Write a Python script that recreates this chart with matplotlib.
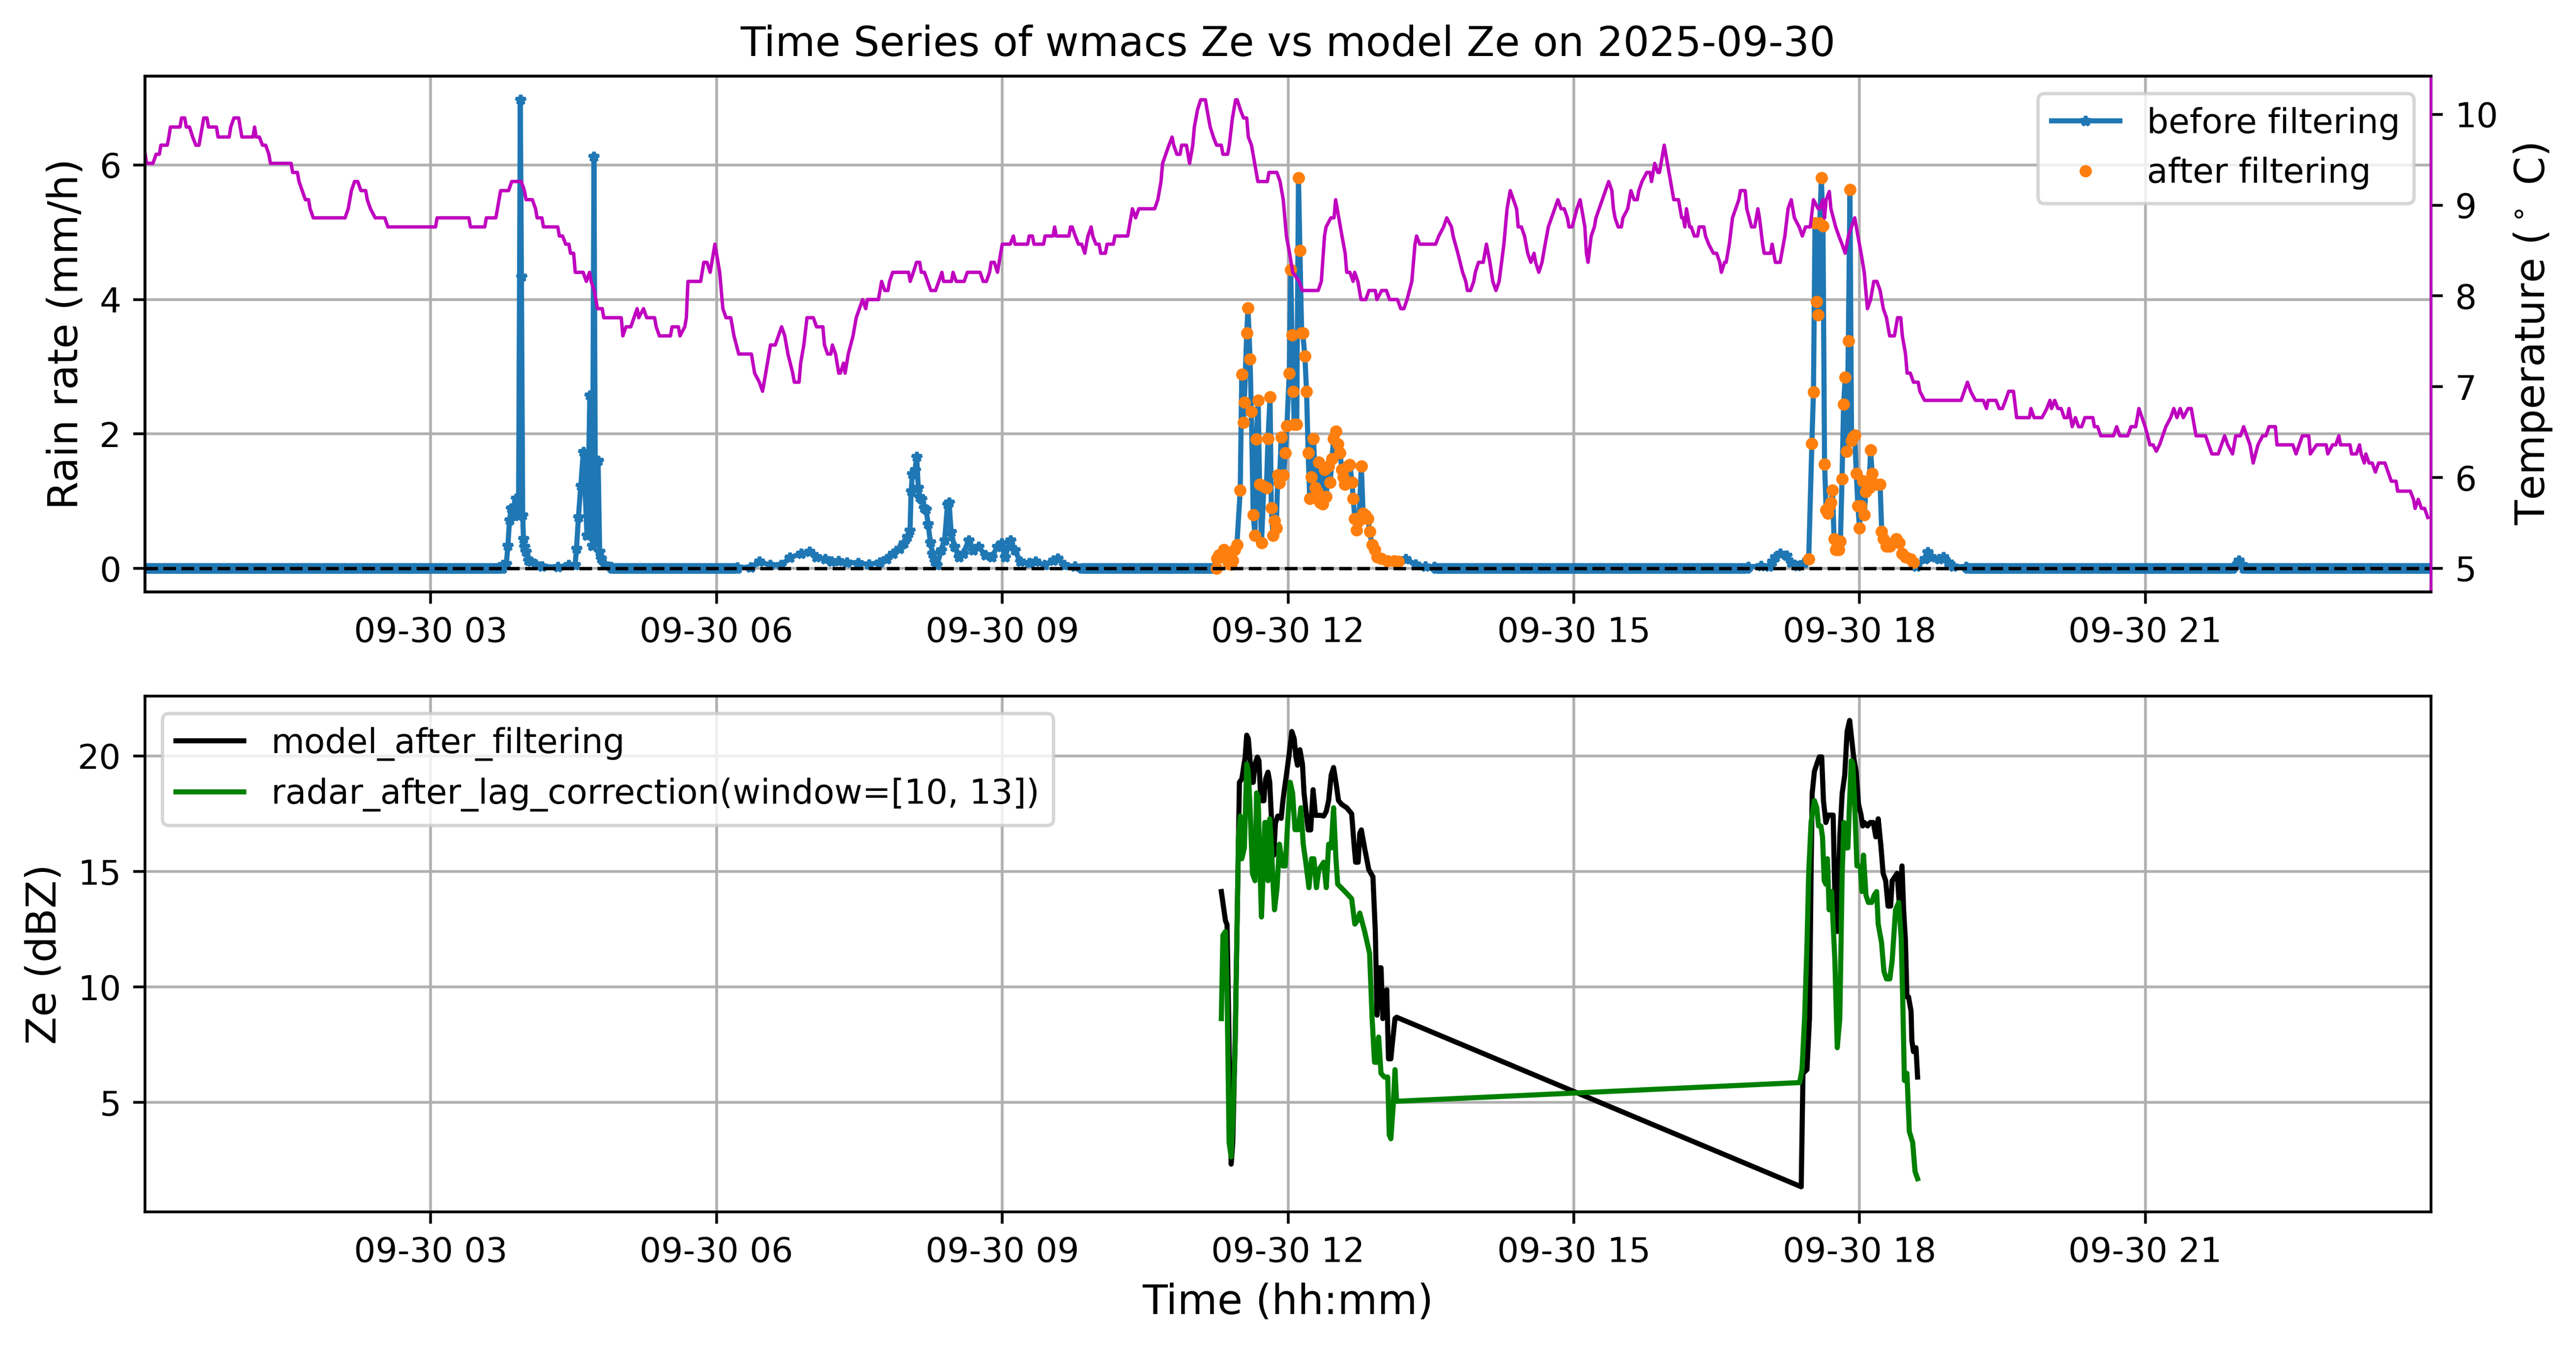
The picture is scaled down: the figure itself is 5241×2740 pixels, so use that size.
import numpy as np
import pandas as pd
import matplotlib
matplotlib.use('Agg')
import matplotlib.pyplot as plt
import matplotlib.dates as mdates

DAY = pd.Timestamp('2025-09-30')

# temperature, minutes after midnight -> deg C
temp_minutes = [
    0, 1, 5, 7, 9, 10, 14, 15, 16, 22,
    23, 25, 26, 28, 30, 32, 34, 37, 39, 40,
    45, 46, 53, 54, 56, 59, 61, 68, 69, 70,
    72, 74, 76, 78, 79, 92, 93, 96, 97, 99,
    101, 103, 104, 106, 126, 128, 130, 132, 134, 136,
    139, 140, 142, 145, 151, 153, 183, 184, 204, 205,
    214, 215, 221, 224, 229, 231, 237, 239, 240, 244,
    246, 247, 250, 251, 260, 261, 263, 265, 267, 268,
    270, 271, 276, 278, 280, 281, 283, 285, 288, 289,
    300, 301, 303, 306, 308, 310, 311, 314, 316, 321,
    322, 324, 331, 332, 336, 337, 340, 341, 342, 350,
    352, 354, 356, 359, 362, 364, 366, 369, 371, 374,
    382, 384, 387, 389, 391, 394, 397, 399, 401, 403,
    405, 408, 409, 412, 413, 415, 417, 421, 423, 427,
    428, 430, 432, 433, 435, 437, 438, 440, 441, 443,
    446, 448, 450, 452, 454, 455, 462, 464, 466,
    468, 469, 471, 481, 482, 484, 486, 488, 489, 491,
    493, 495, 498, 500, 502, 503, 508, 509, 511, 516,
    518, 526, 528, 530, 532, 533, 535, 537, 539, 540,
    545, 547, 548, 556, 557, 559, 560, 566, 567, 572,
    573, 574, 582, 583, 584, 586, 588, 590, 592, 593,
    594, 596, 597, 599, 601, 602, 605, 606, 610, 611,
    619, 620, 622, 624, 626, 636, 638, 640, 641, 643,
    645, 647, 648, 650, 652, 653, 656, 657, 658, 660,
    661, 663, 665, 668, 669, 671, 673, 675, 678, 679,
    682, 683, 685, 687, 688, 690, 692, 694, 695, 697,
    699, 701, 707, 708, 713, 715, 717, 719, 721, 723,
    727, 729, 739, 741, 743, 744, 747, 749, 750, 752,
    754, 756, 757, 759, 761, 762, 764, 766, 769, 771,
    775, 776, 779, 782, 784, 789, 791, 793, 795, 798,
    800, 801, 803, 813, 815, 818, 820, 823, 824, 827,
    830, 832, 833, 835, 837, 838, 840, 843, 845, 847,
    849, 851, 853, 856, 858, 860, 862, 864, 865, 867,
    869, 871, 873, 875, 876, 878, 880, 882, 884, 886,
    888, 890, 892, 894, 896, 897, 899, 902, 904, 907,
    908, 909, 911, 913, 914, 916, 918, 920, 922, 924,
    925, 926, 928, 930, 931, 934, 935, 936, 938, 940,
    941, 943, 946, 948, 949, 951, 953, 954, 956, 957,
    958, 960,
    961, 963, 966, 968, 969, 970, 971, 973, 974, 976,
    978, 979, 982, 983, 985, 988, 990, 992, 993, 995,
    996, 998, 1000, 1002, 1004, 1005, 1008, 1009, 1012, 1014,
    1016, 1017, 1019, 1020, 1024, 1025, 1027, 1030, 1033, 1035,
    1037, 1039, 1042, 1044, 1046, 1049, 1051, 1054, 1055, 1057,
    1058, 1059, 1061, 1062, 1065, 1067, 1069, 1071, 1073, 1075,
    1077, 1078, 1081, 1083, 1085, 1087, 1089, 1091, 1093, 1095,
    1097, 1099, 1102, 1104, 1106, 1107, 1109, 1110, 1112, 1114,
    1117, 1118, 1121, 1125, 1144, 1146, 1148, 1150, 1153, 1158,
    1160, 1161, 1166, 1168, 1170, 1172, 1174, 1177, 1179, 1187,
    1188, 1190, 1195, 1198, 1200, 1201, 1203, 1205, 1207, 1209,
    1211, 1212, 1214, 1216, 1218, 1220, 1222, 1227, 1228, 1230,
    1232, 1240, 1242, 1244, 1249, 1251, 1254, 1256, 1258, 1260,
    1263, 1265, 1267, 1269, 1271, 1273, 1276, 1278, 1280, 1282,
    1284, 1287, 1289, 1292, 1298, 1300, 1302, 1306, 1308, 1310,
    1312, 1315, 1317, 1320, 1322, 1324, 1326, 1328, 1331, 1334,
    1336, 1338, 1342, 1343, 1353, 1355, 1357, 1359, 1363, 1364,
    1368, 1374, 1375, 1378, 1380, 1382, 1383, 1389, 1390, 1393,
    1395, 1396, 1398, 1399, 1401, 1403, 1405, 1407, 1411, 1413,
    1415, 1418, 1419, 1427, 1429, 1430, 1432, 1434, 1436, 1438,
]
temp_values = [
    9.57, 9.46, 9.46, 9.56, 9.56, 9.66, 9.66, 9.75, 9.86, 9.86,
    9.96, 9.96, 9.86, 9.86, 9.75, 9.66, 9.66, 9.96, 9.96, 9.86,
    9.86, 9.75, 9.75, 9.86, 9.96, 9.96, 9.75, 9.75, 9.86, 9.75,
    9.75, 9.66, 9.66, 9.56, 9.46, 9.46, 9.36, 9.36, 9.26, 9.16,
    9.06, 9.06, 8.96, 8.86, 8.86, 8.96, 9.16, 9.26, 9.26, 9.16,
    9.16, 9.06, 8.96, 8.86, 8.86, 8.76, 8.76, 8.86, 8.86, 8.76,
    8.76, 8.86, 8.86, 9.16, 9.16, 9.26, 9.26, 9.16, 9.06, 9.06,
    8.96, 8.86, 8.86, 8.76, 8.76, 8.66, 8.66, 8.57, 8.57, 8.47,
    8.47, 8.26, 8.26, 8.16, 8.26, 8.16, 8.06, 7.86, 7.86, 7.76,
    7.76, 7.56, 7.66, 7.66, 7.76, 7.86, 7.76, 7.86, 7.76, 7.76,
    7.66, 7.56, 7.56, 7.66, 7.66, 7.56, 7.66, 7.76, 8.16, 8.16,
    8.37, 8.37, 8.26, 8.57, 8.26, 7.86, 7.76, 7.76, 7.56, 7.36,
    7.36, 7.15, 7.05, 6.95, 7.15, 7.46, 7.46, 7.56, 7.66, 7.56,
    7.36, 7.15, 7.05, 7.05, 7.26, 7.46, 7.76, 7.76, 7.66, 7.66,
    7.46, 7.36, 7.36, 7.46, 7.36, 7.15, 7.15, 7.26, 7.15, 7.36,
    7.56, 7.76, 7.86, 7.96, 7.86, 7.96, 7.96, 8.16, 8.06,
    8.06, 8.16, 8.26, 8.26, 8.16, 8.26, 8.37, 8.37, 8.26, 8.26,
    8.16, 8.06, 8.06, 8.16, 8.26, 8.16, 8.16, 8.26, 8.16, 8.16,
    8.26, 8.26, 8.16, 8.16, 8.26, 8.37, 8.37, 8.26, 8.47, 8.57,
    8.57, 8.66, 8.57, 8.57, 8.66, 8.66, 8.57, 8.57, 8.66, 8.66,
    8.76, 8.66, 8.66, 8.76, 8.76, 8.66, 8.57, 8.57, 8.47, 8.57,
    8.66, 8.76, 8.66, 8.57, 8.57, 8.47, 8.47, 8.57, 8.57, 8.66,
    8.66, 8.76, 8.96, 8.86, 8.96, 8.96, 9.06, 9.26, 9.46, 9.56,
    9.66, 9.75, 9.66, 9.56, 9.56, 9.66, 9.66, 9.56, 9.46, 9.66,
    9.86, 10.05, 10.16, 10.16, 10.05, 9.86, 9.75, 9.66, 9.66, 9.56,
    9.56, 9.66, 9.96, 10.16, 10.16, 10.05, 9.96, 9.96, 9.75, 9.66,
    9.46, 9.26, 9.26, 9.36, 9.36, 9.26, 9.06, 8.66, 8.47, 8.26,
    8.16, 8.06, 8.06, 8.16, 8.66, 8.76, 8.86, 8.86, 9.06, 8.86,
    8.66, 8.47, 8.26, 8.26, 8.16, 8.26, 8.16, 7.96, 7.96, 8.06,
    8.06, 7.96, 8.06, 8.06, 7.96, 7.96, 7.86, 7.86, 7.96, 8.16,
    8.57, 8.66, 8.57, 8.57, 8.66, 8.76, 8.86, 8.76, 8.66, 8.47,
    8.26, 8.16, 8.06, 8.06, 8.16, 8.26, 8.37, 8.37, 8.57, 8.39,
    8.16, 8.06, 8.16, 8.57, 8.96, 9.16, 9.06, 8.96, 8.76, 8.76,
    8.66, 8.47, 8.37, 8.47, 8.37, 8.26, 8.37, 8.57, 8.76, 8.86,
    8.96, 9.06, 8.96, 8.96, 8.86, 8.76, 8.76, 8.96, 9.06, 8.76,
    8.47, 8.37, 8.66, 8.76, 8.86, 8.96, 9.06, 9.16, 9.26, 9.16,
    8.96, 8.86, 8.76, 8.76, 8.86, 8.96, 9.06, 9.16, 9.06, 9.06,
    9.16, 9.26, 9.36, 9.36, 9.26, 9.46, 9.36, 9.36, 9.56, 9.66,
    9.56, 9.36,
    9.26, 9.06, 9.06, 8.86, 8.86, 8.76, 8.96, 8.76, 8.76, 8.66,
    8.66, 8.76, 8.76, 8.66, 8.57, 8.47, 8.47, 8.37, 8.26, 8.37,
    8.37, 8.57, 8.86, 8.96, 9.06, 9.16, 9.16, 8.96, 8.76, 8.76,
    8.96, 8.86, 8.57, 8.47, 8.47, 8.57, 8.37, 8.37, 8.66, 8.96,
    9.06, 8.86, 8.76, 8.66, 8.76, 8.76, 9.06, 8.96, 8.96, 9.06,
    8.86, 9.06, 9.15, 8.96, 8.76, 8.66, 8.57, 8.47, 8.66, 8.76,
    8.86, 8.76, 8.47, 8.26, 7.86, 7.96, 8.16, 8.16, 8.06, 7.86,
    7.76, 7.56, 7.56, 7.76, 7.76, 7.56, 7.36, 7.15, 7.15, 7.05,
    7.05, 6.95, 6.85, 6.85, 6.85, 6.95, 7.05, 6.95, 6.85, 6.85,
    6.76, 6.85, 6.85, 6.76, 6.76, 6.85, 6.95, 6.95, 6.66, 6.66,
    6.76, 6.66, 6.66, 6.76, 6.85, 6.76, 6.85, 6.76, 6.76, 6.66,
    6.66, 6.76, 6.56, 6.66, 6.56, 6.56, 6.66, 6.66, 6.56, 6.56,
    6.46, 6.46, 6.56, 6.46, 6.46, 6.56, 6.56, 6.76, 6.66, 6.56,
    6.36, 6.36, 6.29, 6.36, 6.46, 6.56, 6.66, 6.76, 6.66, 6.76,
    6.66, 6.76, 6.76, 6.46, 6.46, 6.36, 6.26, 6.26, 6.36, 6.46,
    6.36, 6.26, 6.46, 6.46, 6.56, 6.46, 6.36, 6.16, 6.36, 6.46,
    6.46, 6.56, 6.56, 6.36, 6.36, 6.26, 6.36, 6.46, 6.46, 6.26,
    6.36, 6.36, 6.26, 6.36, 6.36, 6.46, 6.36, 6.36, 6.26, 6.26,
    6.36, 6.26, 6.16, 6.26, 6.16, 6.16, 6.06, 6.16, 6.16, 6.06,
    5.96, 5.96, 5.85, 5.85, 5.76, 5.66, 5.76, 5.66, 5.66, 5.56,
]

# rain rate (mm/h) during the events; the rest of the day reads 0
rain_ab_min = [225.5, 227.6, 228.6, 229.6, 230.7, 231.5, 232.2, 233.0, 233.8, 235.3,
               236.4, 237.1, 237.9, 238.4, 238.9, 240.0, 241.5, 243.1, 246.2, 250.0,
               260.0, 266.8, 270.9, 271.8, 273.0, 274.5, 276.1, 277.1, 278.4, 279.2,
               280.2, 281.8, 282.8, 283.8, 285.4, 286.4, 287.4, 289.5, 293.6]
rain_ab_val = [0.05, 0.07, 0.34, 0.72, 0.89, 0.85, 0.91, 0.80, 1.04, 0.78,
               6.97, 4.34, 0.79, 0.44, 0.32, 0.25, 0.12, 0.10, 0.06, 0.03,
               0.02, 0.05, 0.05, 0.29, 0.76, 1.23, 1.73, 1.23, 0.49, 1.21,
               2.57, 0.34, 6.12, 0.39, 1.60, 0.25, 0.15, 0.06, 0.02]

rain_c_min = [373.1, 381.4, 386.9, 393.8, 400.7, 406.3, 413.2, 418.7, 422.9, 428.4,
              432.5, 436.7, 442.2, 449.1, 456.0, 462.9, 467.1, 471.2, 475.4, 478.1,
              480.2, 481.9, 482.6, 483.4, 485.0, 486.1, 487.1, 487.8, 489.2, 490.6,
              492.0, 493.3, 494.7, 496.1, 497.5, 498.9, 501.6, 503.7, 505.5, 506.5,
              507.8, 509.9, 512.7, 515.4, 518.9, 521.7, 525.1, 529.3, 533.4, 536.9,
              539.6, 541.7, 545.2, 547.9, 551.4, 556.9, 561.1, 566.6, 572.1, 574.9,
              579.0, 585.9, 590.0]
rain_c_val = [0.015, 0.015, 0.10, 0.05, 0.05, 0.16, 0.22, 0.25, 0.17, 0.14,
              0.10, 0.11, 0.09, 0.08, 0.06, 0.09, 0.14, 0.22, 0.29, 0.37,
              0.47, 0.56, 1.15, 1.40, 1.46, 1.66, 1.20, 1.06, 1.03, 0.90,
              0.88, 0.66, 0.39, 0.22, 0.10, 0.05, 0.27, 0.42, 0.95, 0.98,
              0.54, 0.32, 0.17, 0.22, 0.42, 0.27, 0.32, 0.20, 0.17, 0.32,
              0.37, 0.17, 0.42, 0.27, 0.10, 0.08, 0.10, 0.05, 0.12, 0.15,
              0.05, 0.03, 0.0]

rain_d_min = [675.4, 676.5, 677.5, 678.5, 679.6, 680.5, 681.1, 682.7, 684.2, 685.2,
              686.3, 687.8, 689.9, 690.9, 691.9, 692.5, 694.0, 694.8, 696.1, 696.9,
              698.1, 699.2, 700.0, 701.2, 702.1, 703.3, 704.8, 706.4, 707.4, 708.7,
              709.5, 710.5, 711.5, 712.6, 713.6, 714.6, 715.7, 717.2, 718.3, 719.3,
              720.8, 721.7, 722.5, 723.4, 723.9, 725.5, 726.6, 727.5, 728.6, 729.3,
              730.6, 731.7, 732.7, 733.7, 734.8, 736.1, 737.3, 738.4, 739.4, 740.4,
              741.7, 743.0, 744.1, 745.4, 746.6, 747.7, 748.7, 750.2, 751.3, 752.8,
              753.9, 754.9, 755.9, 757.5, 759.0, 760.3, 761.1, 762.1, 763.2, 764.7,
              766.2, 767.3, 768.8, 770.4, 771.4, 773.0, 774.5, 776.1, 778.6, 782.8,
              786.9, 789.5, 794.1, 800.3, 806.5, 812.0]
rain_d_val = [0.15, 0.20, 0.17, 0.22, 0.28, 0.20, 0.15, 0.07, 0.06, 0.12,
              0.28, 0.35, 1.16, 2.89, 2.17, 2.47, 3.50, 3.87, 3.11, 2.33,
              0.80, 0.49, 1.92, 2.50, 1.25, 0.38, 1.22, 1.20, 1.93, 2.55,
              0.90, 0.49, 0.71, 0.60, 1.39, 1.27, 1.95, 1.39, 1.72, 2.12,
              2.90, 4.44, 3.47, 2.63, 2.14, 2.14, 5.81, 4.73, 3.50, 3.50,
              3.16, 2.63, 1.72, 1.04, 1.36, 1.93, 1.20, 1.14, 1.58, 0.98,
              0.96, 1.47, 1.07, 1.52, 1.28, 1.63, 1.93, 2.04, 1.85, 1.72,
              1.47, 1.36, 1.25, 1.52, 1.54, 1.28, 1.04, 0.74, 0.57, 0.71,
              1.52, 0.82, 0.79, 0.74, 0.55, 0.35, 0.28, 0.17, 0.15, 0.11,
              0.11, 0.10, 0.14, 0.06, 0.03, 0.02]

rain_e_min = [1010, 1018, 1023, 1025, 1027, 1030, 1034, 1037, 1041, 1045,
              1048, 1050, 1051, 1052, 1053, 1054, 1055, 1056, 1057, 1058,
              1059, 1060, 1061, 1062, 1063, 1064, 1065, 1066, 1067, 1068,
              1069, 1070, 1071, 1072, 1073, 1074, 1075, 1076, 1077, 1078,
              1079, 1080, 1081, 1082, 1083, 1084, 1085, 1086, 1087, 1088,
              1090, 1093, 1094, 1095, 1097, 1099, 1101, 1103, 1105, 1107,
              1109, 1112, 1114, 1116, 1121, 1123, 1125, 1130, 1133, 1136,
              1139, 1147]
rain_e_val = [0.02, 0.04, 0.03, 0.10, 0.17, 0.22, 0.19, 0.09, 0.04, 0.08,
              0.14, 1.86, 2.62, 5.14, 3.97, 3.77, 5.14, 5.81, 5.09, 1.55,
              0.87, 0.82, 0.93, 0.98, 1.16, 0.44, 0.28, 0.33, 0.28, 0.40,
              1.33, 2.44, 2.84, 1.74, 3.38, 5.63, 1.90, 1.95, 1.98, 1.41,
              0.93, 0.60, 0.93, 1.30, 0.80, 1.14, 1.25, 1.20, 1.76, 1.41,
              1.25, 1.25, 0.55, 0.44, 0.33, 0.33, 0.38, 0.44, 0.38, 0.22,
              0.17, 0.14, 0.09, 0.03, 0.14, 0.24, 0.17, 0.14, 0.17, 0.09,
              0.03, 0.02]

rain_f_min = [1316, 1319, 1321]
rain_f_val = [0.03, 0.12, 0.05]

# periods kept after filtering (minutes)
filter_windows = [(675, 790), (1048, 1115)]

# Ze (dBZ)
model_min = [678.0, 680.6, 681.6, 683.2, 684.2, 685.2, 686.8, 689.4, 690.9, 693.0,
             694.0, 695.0, 696.1, 697.1, 698.1, 699.2, 700.7, 701.7, 702.8, 703.8,
             704.8, 705.9, 707.4, 708.5, 709.5, 711.0, 712.1, 713.6, 715.7, 716.7,
             717.7, 719.3, 720.8, 722.4, 723.9, 725.0, 726.0, 727.5, 729.1, 730.1,
             731.7, 732.7, 734.3, 735.8, 737.3, 738.9, 740.4, 742.5, 744.1, 745.6,
             747.2, 748.7, 750.2, 751.8, 753.9, 757.0, 760.1, 761.6, 762.6, 764.2,
             765.2, 766.2, 768.3, 770.9, 773.5, 775.0, 776.1, 777.1, 778.6, 779.7,
             781.2, 782.2, 783.3, 784.8, 785.9, 787.4, 788.4,
             1043.3, 1044.4, 1046.9, 1048.5, 1049.5, 1050.2, 1051.6, 1053.1, 1054.7, 1056.2,
             1057.3, 1058.8, 1060.4, 1061.9, 1063.4, 1064.5, 1066.0, 1067.6, 1069.1, 1070.7,
             1072.2, 1073.8, 1074.8, 1076.3, 1077.9, 1079.4, 1081.0, 1082.0, 1083.1, 1085.1,
             1086.7, 1088.7, 1090.3, 1091.8, 1093.4, 1094.9, 1096.5, 1098.0, 1099.6, 1100.6,
             1102.2, 1103.7, 1105.2, 1106.8, 1107.8, 1108.9, 1109.9, 1110.9, 1112.5, 1113.0,
             1114.0, 1115.6, 1116.6]
model_ze = [14.13, 12.87, 12.70, 6.42, 2.33, 3.27, 8.00, 18.86, 19.00, 19.95,
            20.90, 20.75, 19.80, 18.86, 18.86, 19.65, 19.95, 19.80, 18.20, 18.06,
            18.06, 19.00, 19.30, 18.86, 17.40, 15.70, 17.10, 17.40, 17.30, 18.00,
            18.54, 19.33, 20.12, 21.06, 20.75, 19.95, 19.60, 20.27, 19.65, 18.40,
            17.40, 16.80, 16.80, 18.54, 17.43, 17.43, 17.43, 17.40, 17.60, 18.07,
            19.17, 19.50, 18.86, 18.07, 17.90, 17.76, 17.50, 16.18, 15.40, 15.40,
            16.65, 16.80, 16.00, 15.08, 14.77, 12.40, 8.78, 10.83, 10.83, 8.63,
            9.57, 9.88, 6.89, 6.89, 7.67, 8.63, 8.69,
            1.35, 6.26, 6.42, 8.63, 14.92, 18.38, 19.33, 19.65, 19.96, 19.96,
            18.07, 17.12, 17.44, 17.44, 17.44, 13.97, 12.40, 16.50, 18.38, 19.17,
            21.06, 21.54, 20.90, 19.96, 19.33, 17.91, 17.44, 16.97, 17.12, 16.97,
            17.12, 17.12, 16.50, 17.28, 16.18, 14.92, 14.60, 13.50, 13.50, 14.60,
            14.76, 14.92, 13.50, 15.24, 13.34, 12.08, 9.57, 9.57, 8.94, 7.68,
            7.20, 7.37, 6.10]

radar_min = [678.0, 679.0, 680.6, 681.6, 682.9, 684.2, 685.2, 686.8, 688.8, 689.9,
             690.9, 692.5, 694.0, 695.0, 696.1, 697.6, 699.2, 700.2, 701.2, 702.3,
             703.3, 704.3, 705.4, 706.4, 707.4, 708.5, 709.5, 710.5, 711.5, 713.1,
             714.6, 716.7, 718.3, 719.8, 721.4, 722.9, 724.4, 726.5, 728.1, 729.6,
             731.2, 733.2, 734.8, 736.3, 737.9, 739.4, 741.0, 742.5, 744.1, 745.6,
             747.2, 748.7, 750.2, 751.3, 755.9, 760.1, 762.1, 763.7, 765.2, 768.3,
             771.4, 773.0, 774.5, 776.1, 777.1, 778.6, 780.7, 782.8, 783.8, 784.8,
             786.4, 787.4, 788.4,
             1042.3, 1043.8, 1045.4, 1046.9, 1048.0, 1049.5, 1051.6, 1053.1, 1054.2, 1055.7,
             1056.7, 1057.8, 1058.8, 1059.8, 1060.9, 1062.4, 1064.5, 1066.0, 1067.6, 1069.1,
             1070.2, 1071.2, 1072.7, 1073.8, 1074.8, 1075.8, 1076.9, 1078.4, 1080.5, 1081.5,
             1082.5, 1084.1, 1085.6, 1087.7, 1089.2, 1090.8, 1091.8, 1093.9, 1095.4, 1097.0,
             1099.1, 1100.6, 1102.7, 1104.7, 1106.3, 1107.3, 1108.3, 1109.9, 1111.4, 1113.5,
             1115.0, 1116.6]
radar_ze = [8.63, 12.24, 12.40, 9.88, 3.27, 2.64, 4.22, 7.70, 16.50, 17.40,
            15.55, 16.02, 19.65, 19.33, 17.76, 14.92, 14.60, 18.40, 18.24, 15.24,
            13.03, 14.92, 17.12, 17.12, 14.60, 17.28, 16.18, 14.60, 13.34, 14.30,
            16.18, 15.24, 15.24, 17.12, 18.86, 18.40, 16.81, 16.81, 17.76, 16.18,
            15.40, 14.30, 15.55, 15.55, 14.30, 15.08, 15.24, 15.40, 14.30, 16.18,
            16.02, 17.76, 15.55, 14.45, 14.13, 13.82, 12.72, 12.87, 13.20, 12.40,
            11.45, 8.63, 6.74, 6.74, 7.83, 6.26, 6.10, 6.10, 3.59, 3.43,
            5.00, 6.42, 5.05,
            5.86, 6.42, 8.63, 11.77, 14.92, 17.12, 18.07, 17.76, 16.97, 16.97,
            16.50, 14.60, 14.45, 15.55, 13.34, 14.13, 11.14, 7.37, 8.63, 14.92,
            17.12, 16.02, 16.02, 18.07, 19.80, 19.65, 18.07, 15.24, 15.24, 14.13,
            15.71, 13.97, 13.66, 13.66, 13.97, 14.13, 12.72, 11.92, 10.67, 10.35,
            10.35, 11.14, 13.34, 13.66, 12.08, 9.25, 5.95, 6.26, 3.74, 3.27,
            2.01, 1.70]


def to_time(minutes):
    return (DAY + pd.to_timedelta(np.asarray(minutes, dtype=float), unit='m')).to_numpy()


# build the rain series: zeros every minute outside the events
events = [(rain_ab_min, rain_ab_val), (rain_c_min, rain_c_val), (rain_d_min, rain_d_val),
          (rain_e_min, rain_e_val), (rain_f_min, rain_f_val)]
all_min = np.arange(0, 1440)
keep = np.ones(len(all_min), dtype=bool)
for m, v in events:
    keep &= ~((all_min >= m[0]) & (all_min <= m[-1]))
rain_min = np.concatenate([all_min[keep].astype(float)] + [np.array(m, float) for m, v in events])
rain_val = np.concatenate([np.zeros(keep.sum())] + [np.array(v, float) for m, v in events])
order = np.argsort(rain_min)
rain_min = rain_min[order]
rain_val = rain_val[order]

filtered = np.zeros(len(rain_min), dtype=bool)
for a, b in filter_windows:
    filtered |= (rain_min >= a) & (rain_min <= b)

t_rain = to_time(rain_min)
t_temp = to_time(temp_minutes)
t_model = to_time(model_min)
t_radar = to_time(radar_min)
xlim = (to_time([0])[0], to_time([1440])[0])

fig = plt.figure(figsize=(5241 / 500, 2740 / 500), dpi=500)
ax1 = fig.add_axes([0.0563, 0.5602, 0.8874, 0.3832])
ax3 = fig.add_axes([0.0563, 0.0996, 0.8874, 0.3832])

# top panel
ax1.plot(t_rain, rain_val, '-*', color='tab:blue', lw=1.5, ms=3, label='before filtering')
ax1.plot(t_rain[filtered], rain_val[filtered], 'o', color='tab:orange', ms=2.6,
         label='after filtering')
ax1.axhline(0, color='k', ls='--', lw=1)
ax1.set_ylim(-0.35, 7.32)
ax1.set_ylabel('Rain rate (mm/h)', fontsize=12)
ax1.set_title('Time Series of wmacs Ze vs model Ze on 2025-09-30', fontsize=12)
ax1.grid(True)
ax1.legend(loc='upper right')

ax2 = ax1.twinx()
ax2.plot(t_temp, temp_values, color='m', lw=1)
ax2.set_ylim(4.74, 10.42)
ax2.set_ylabel('Temperature ($^\\circ$ C)', fontsize=12)
ax2.spines['right'].set_color('m')

# bottom panel
ax3.plot(t_model, model_ze, color='k', lw=1.5, label='model_after_filtering')
ax3.plot(t_radar, radar_ze, color='g', lw=1.5, label='radar_after_lag_correction(window=[10, 13])')
ax3.set_ylim(0.26, 22.59)
ax3.set_ylabel('Ze (dBZ)', fontsize=12)
ax3.set_xlabel('Time (hh:mm)', fontsize=12)
ax3.grid(True)
ax3.legend(loc='upper left')

for ax in (ax1, ax3):
    ax.set_xlim(*xlim)
    ax.xaxis.set_major_locator(mdates.HourLocator(byhour=range(3, 24, 3)))
    ax.xaxis.set_major_formatter(mdates.DateFormatter('%m-%d %H'))

fig.savefig('out.png', dpi=500)
